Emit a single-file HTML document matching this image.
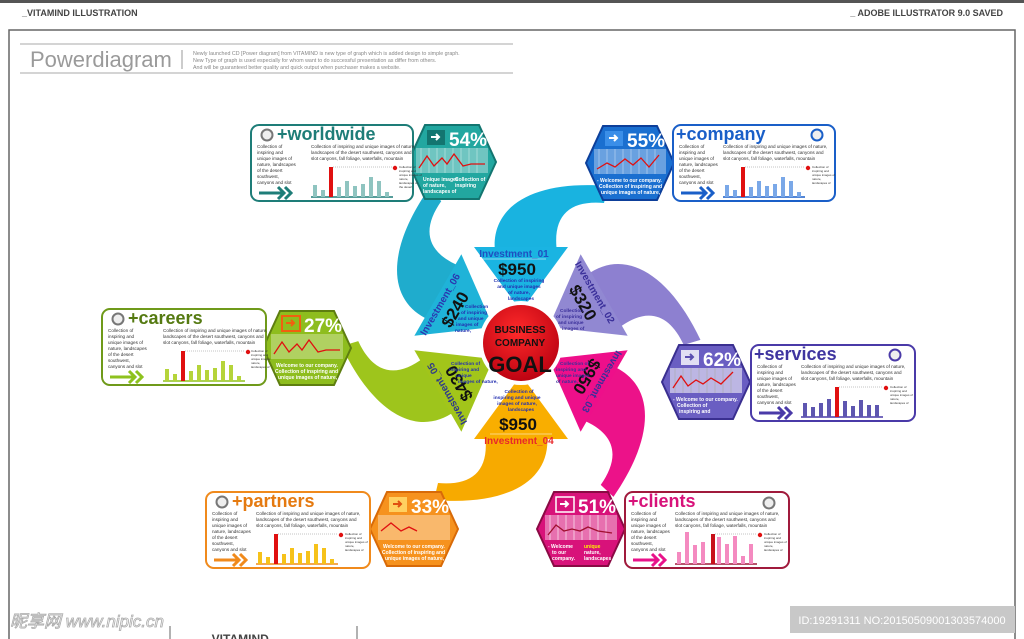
<!DOCTYPE html>
<html><head><meta charset="utf-8"><style>
html,body{margin:0;padding:0;background:#fff;width:1024px;height:639px;overflow:hidden}
svg{display:block;font-family:"Liberation Sans","Noto Sans CJK SC",sans-serif}
.t{font-size:4.6px;fill:#333}
.tiny{font-size:3px;fill:#333}
.ti{font-size:18px;font-weight:bold}
.hp{font-size:19px;font-weight:bold;fill:#fff}
.ht{font-size:5px;fill:#fff;font-weight:bold}
.inv{font-size:10px;font-weight:bold}
.amt{font-size:17px;font-weight:bold;fill:#111}
.sm{font-size:4.8px;font-weight:bold}
</style></head><body>
<svg width="1024" height="639" viewBox="0 0 1024 639" xmlns="http://www.w3.org/2000/svg">
<rect x="0" y="0" width="1024" height="3" fill="#555"/>
<text x="22" y="16" font-size="9" font-weight="bold" fill="#444">_VITAMIND ILLUSTRATION</text>
<text x="1003" y="16" font-size="9" font-weight="bold" fill="#444" text-anchor="end">_ ADOBE ILLUSTRATOR 9.0 SAVED</text>
<rect x="9" y="30" width="1006" height="640" fill="none" stroke="#666" stroke-width="1.5"/>
<line x1="20" y1="44" x2="513" y2="44" stroke="#aaa" stroke-width="1"/>
<line x1="20" y1="73" x2="513" y2="73" stroke="#aaa" stroke-width="1"/>
<text x="30" y="67" font-size="22" fill="#9a9a9a">Powerdiagram</text>
<line x1="182" y1="50" x2="182" y2="69" stroke="#999"/>
<text x="193" y="55" font-size="5.3" fill="#888">Newly launched CD [Power diagram] from VITAMIND is new type of graph which is added design to simple graph.</text>
<text x="193" y="62" font-size="5.3" fill="#888">New Type of graph is used especially for whom want to do successful presentation as differ from others.</text>
<text x="193" y="69" font-size="5.3" fill="#888">And will be guaranteed better quality and quick output when purchaser makes a website.</text>

<!-- swooshes -->
<g>
<path id="sw" d="M495,252 C490,205 535,180 608,186 L604,203 C570,200 552,215 557,252 Z" fill="#19b3e0"/>
<path d="M495,252 C490,205 535,180 608,186 L604,203 C570,200 552,215 557,252 Z" fill="#8d80d0" transform="rotate(60 521 343)"/>
<path d="M495,252 C490,205 535,180 608,186 L604,203 C570,200 552,215 557,252 Z" fill="#ec1289" transform="rotate(120 521 343)"/>
<path d="M495,252 C490,205 535,180 608,186 L604,203 C570,200 552,215 557,252 Z" fill="#f7aa00" transform="rotate(180 521 343)"/>
<path d="M495,252 C490,205 535,180 608,186 L604,203 C570,200 552,215 557,252 Z" fill="#9ec51c" transform="rotate(240 521 343)"/>
<path d="M495,252 C490,205 535,180 608,186 L604,203 C570,200 552,215 557,252 Z" fill="#1faccd" transform="rotate(300 521 343)"/>
</g>
<!-- triangles -->
<polygon points="474,247 568,247 521,311" fill="#1ab4e2"/>
<polygon points="474,247 568,247 521,311" fill="#9188d2" transform="rotate(60 521 343)"/>
<polygon points="474,247 568,247 521,311" fill="#ee0f8a" transform="rotate(120 521 343)"/>
<polygon points="474,247 568,247 521,311" fill="#f9ae00" transform="rotate(180 521 343)"/>
<polygon points="474,247 568,247 521,311" fill="#a2c51a" transform="rotate(240 521 343)"/>
<polygon points="474,247 568,247 521,311" fill="#1fb3d8" transform="rotate(300 521 343)"/>
<!-- triangle texts -->
<g>
<text x="514" y="257" class="inv" fill="#1f4fc0" text-anchor="middle">Investment_01</text>
<line x1="482" y1="259" x2="546" y2="259" stroke="#fff" stroke-width="0.6"/>
<text x="517" y="275" class="amt" text-anchor="middle">$950</text>
<text x="519" y="282" class="sm" fill="#2430b0" text-anchor="middle">Collection of inspiring</text>
<text x="519" y="288" class="sm" fill="#2430b0" text-anchor="middle">and unique images</text>
<text x="519" y="294" class="sm" fill="#2430b0" text-anchor="middle">of nature,</text>
<text x="521" y="300" class="sm" fill="#2430b0" text-anchor="middle">landscapes</text>
</g>
<g transform="rotate(60 521 343)">
<text x="514" y="257" class="inv" fill="#3a2f9a" text-anchor="middle">Investment_02</text>
<text x="517" y="275" class="amt" text-anchor="middle">$320</text>
</g>
<text x="560" y="312" class="sm" fill="#3a2f9a">Collection</text>
<text x="556" y="318" class="sm" fill="#3a2f9a">of inspiring</text>
<text x="558" y="324" class="sm" fill="#3a2f9a">and unique</text>
<text x="562" y="330" class="sm" fill="#3a2f9a">images of</text>
<g transform="rotate(120 521 343)">
<text x="514" y="257" class="inv" fill="#3a2f9a" text-anchor="middle">Investment_03</text>
<text x="517" y="275" class="amt" text-anchor="middle">$950</text>
</g>
<text x="560" y="365" class="sm" fill="#3a2f9a">Collection of</text>
<text x="556" y="371" class="sm" fill="#3a2f9a">inspiring and</text>
<text x="556" y="377" class="sm" fill="#3a2f9a">unique images</text>
<text x="556" y="383" class="sm" fill="#3a2f9a">of nature,</text>
<g>
<text x="519" y="393" class="sm" fill="#2430b0" text-anchor="middle">Collection of</text>
<text x="517" y="399" class="sm" fill="#2430b0" text-anchor="middle">inspiring and unique</text>
<text x="517" y="405" class="sm" fill="#2430b0" text-anchor="middle">images of nature,</text>
<text x="521" y="411" class="sm" fill="#2430b0" text-anchor="middle">landscapes</text>
<text x="518" y="430" class="amt" text-anchor="middle">$950</text>
<line x1="490" y1="434" x2="552" y2="434" stroke="#fff" stroke-width="0.6"/>
<text x="519" y="444" class="inv" fill="#e8282a" text-anchor="middle">Investment_04</text>
</g>
<g transform="rotate(240 521 343)">
<text x="514" y="257" class="inv" fill="#2e3a8a" text-anchor="middle">Investment_05</text>
<text x="517" y="275" class="amt" text-anchor="middle">$430</text>
</g>
<text x="451" y="365" class="sm" fill="#2430b0">Collection of</text>
<text x="449" y="371" class="sm" fill="#2430b0">inspiring and</text>
<text x="456" y="377" class="sm" fill="#2430b0">unique</text>
<text x="458" y="383" class="sm" fill="#2430b0">images of nature,</text>
<g transform="rotate(300 521 343)">
<text x="514" y="257" class="inv" fill="#2a38b0" text-anchor="middle">Investment_06</text>
<text x="517" y="275" class="amt" text-anchor="middle">$240</text>
</g>
<text x="465" y="308" class="sm" fill="#2430b0">Collection</text>
<text x="461" y="314" class="sm" fill="#2430b0">of inspiring</text>
<text x="458" y="320" class="sm" fill="#2430b0">and unique</text>
<text x="456" y="326" class="sm" fill="#2430b0">images of</text>
<text x="455" y="332" class="sm" fill="#2430b0">nature,</text>
<!-- center -->
<defs><radialGradient id="rg" cx="0.45" cy="0.35" r="0.7"><stop offset="0" stop-color="#ff2a2a"/><stop offset="1" stop-color="#b80010"/></radialGradient></defs>
<circle cx="521" cy="343" r="42" fill="#fff"/>
<circle cx="521" cy="343" r="38" fill="url(#rg)"/>
<text x="520" y="333" font-size="10" font-weight="bold" fill="#111" text-anchor="middle">BUSINESS</text>
<text x="520" y="346" font-size="10" font-weight="bold" fill="#111" text-anchor="middle">COMPANY</text>
<text x="520" y="372" font-size="22" font-weight="bold" fill="#111" text-anchor="middle">GOAL</text>

<!-- HEXAGONS -->
<!-- worldwide 54 -->
<g transform="translate(407,124)">
<polygon points="18,1 72,1 89,38 72,75 18,75 1,38" fill="#22a7a0" stroke="#137570" stroke-width="2"/>
<rect x="20" y="6" width="18" height="15" fill="#137570"/><path d="M24,13h8M29,10l3,3-3,3" stroke="#fff" stroke-width="2" fill="none"/>
<text x="42" y="22" class="hp">54%</text>
<rect x="9" y="24" width="72" height="25" fill="#fff" opacity="0.35"/>
<path d="M14,24v25M22,24v25M30,24v25M38,24v25M46,24v25M54,24v25M62,24v25M70,24v25" stroke="#fff" stroke-width="0.6" opacity="0.6"/>
<polyline points="12,44 20,32 27,42 35,34 40,40 47,30 56,42 64,40 78,40" fill="none" stroke="#e01010" stroke-width="1.3"/>
<text x="16" y="57" class="ht">Unique images</text><text x="16" y="63" class="ht">of nature,</text><text x="16" y="69" class="ht">landscapes of</text><text x="48" y="57" class="ht">Collection of</text><text x="48" y="63" class="ht">inspiring</text>
</g>
<!-- company 55 -->
<g transform="translate(585,125)">
<polygon points="18,1 72,1 89,38 72,75 18,75 1,38" fill="#1a6fd0" stroke="#0d3f9a" stroke-width="2"/>
<rect x="20" y="6" width="18" height="15" fill="#3a8ee8"/><path d="M24,13h8M29,10l3,3-3,3" stroke="#fff" stroke-width="2" fill="none"/>
<text x="42" y="22" class="hp">55%</text>
<rect x="9" y="24" width="72" height="25" fill="#fff" opacity="0.35"/>
<path d="M14,24v25M22,24v25M30,24v25M38,24v25M46,24v25M54,24v25M62,24v25M70,24v25" stroke="#fff" stroke-width="0.6" opacity="0.6"/>
<polyline points="12,44 22,38 30,42 40,34 48,40 56,33 64,42 74,30" fill="none" stroke="#e01010" stroke-width="1.3"/>
<text x="12" y="57" class="ht">- Welcome to our company.</text><text x="14" y="63" class="ht">Collection of inspiring and</text><text x="16" y="69" class="ht">unique images of nature,</text>
</g>
<!-- careers 27 -->
<g transform="translate(262,310)">
<polygon points="18,1 72,1 89,38 72,75 18,75 1,38" fill="#8ebd1e" stroke="#5e7e10" stroke-width="2"/>
<rect x="20" y="6" width="18" height="15" fill="none" stroke="#f06010" stroke-width="2"/><path d="M24,13h8M29,10l3,3-3,3" stroke="#f06010" stroke-width="2" fill="none"/>
<text x="42" y="22" class="hp">27%</text>
<rect x="9" y="24" width="72" height="25" fill="#fff" opacity="0.3"/>
<polyline points="12,44 20,32 27,42 35,34 40,40 47,30 56,42 64,40 78,40" fill="none" stroke="#e01010" stroke-width="1.3"/>
<text x="14" y="57" class="ht">Welcome to our company.</text><text x="13" y="63" class="ht">Collection of inspiring and</text><text x="16" y="69" class="ht">unique images of nature,</text>
</g>
<!-- services 62 -->
<g transform="translate(661,344)">
<polygon points="18,1 72,1 89,38 72,75 18,75 1,38" fill="#6a5ec2" stroke="#3a2f90" stroke-width="2"/>
<rect x="20" y="6" width="18" height="15" fill="#fff" opacity="0.8"/><path d="M24,13h8M29,10l3,3-3,3" stroke="#5a4eb0" stroke-width="2" fill="none"/>
<text x="42" y="22" class="hp">62%</text>
<rect x="9" y="24" width="72" height="25" fill="#fff" opacity="0.55"/>
<path d="M14,24v25M22,24v25M30,24v25M38,24v25M46,24v25M54,24v25M62,24v25M70,24v25" stroke="#aaa" stroke-width="0.6"/>
<polyline points="12,44 20,32 27,42 35,36 42,40 50,34 60,40 72,28" fill="none" stroke="#e01010" stroke-width="1.3"/>
<text x="12" y="57" class="ht">- Welcome to our company.</text><text x="16" y="63" class="ht">Collection of</text><text x="18" y="69" class="ht">inspiring and</text>
</g>
<!-- partners 33 -->
<g transform="translate(369,491)">
<polygon points="18,1 72,1 89,38 72,75 18,75 1,38" fill="#f6921e" stroke="#d86a08" stroke-width="2"/>
<rect x="20" y="6" width="18" height="15" fill="#ffd060"/><path d="M24,13h8M29,10l3,3-3,3" stroke="#e05010" stroke-width="2" fill="none"/>
<text x="42" y="22" class="hp">33%</text>
<rect x="9" y="24" width="72" height="25" fill="#fff" opacity="0.35"/>
<polyline points="12,40 22,32 32,40 40,36 48,40" fill="none" stroke="#e01010" stroke-width="1.3"/>
<text x="14" y="57" class="ht">Welcome to our company.</text><text x="13" y="63" class="ht">Collection of inspiring and</text><text x="16" y="69" class="ht">unique images of nature,</text>
</g>
<!-- clients 51 -->
<g transform="translate(536,491)">
<polygon points="18,1 72,1 89,38 72,75 18,75 1,38" fill="#d8127a" stroke="#8a0a44" stroke-width="2"/>
<rect x="20" y="6" width="18" height="15" fill="none" stroke="#fff" stroke-width="1.5"/><path d="M24,13h8M29,10l3,3-3,3" stroke="#fff" stroke-width="2" fill="none"/>
<text x="42" y="22" class="hp">51%</text>
<rect x="9" y="24" width="72" height="25" fill="#fff" opacity="0.4"/>
<path d="M14,24v25M22,24v25M30,24v25M38,24v25M46,24v25M54,24v25M62,24v25M70,24v25" stroke="#fff" stroke-width="0.6"/>
<polyline points="12,44 20,34 28,40 36,38 44,40 52,36 62,40 76,42" fill="none" stroke="#a01030" stroke-width="1.3"/>
<text x="12" y="57" class="ht">- Welcome</text><text x="16" y="63" class="ht">to our</text><text x="16" y="69" class="ht">company.</text>
<text x="48" y="57" class="ht" fill="#ffee00" style="fill:#ffee00">unique</text><text x="48" y="63" class="ht">nature,</text><text x="48" y="69" class="ht">landscapes</text>
</g>

<!-- CARDS -->
<!-- worldwide -->
<g transform="translate(250,124)">
<rect x="1" y="1" width="162" height="76" rx="8" fill="#fff" stroke="#1e7d78" stroke-width="2"/>
<circle cx="17" cy="11" r="5.5" fill="#eee" stroke="#777" stroke-width="2"/>
<text x="27" y="16" class="ti" fill="#1e7d78">+worldwide</text>
<text class="t" x="7" y="24">Collection of</text><text class="t" x="7" y="30">inspiring and</text><text class="t" x="7" y="36">unique images of</text><text class="t" x="7" y="42">nature, landscapes</text><text class="t" x="7" y="48">of the desert</text><text class="t" x="7" y="54">southwest,</text><text class="t" x="7" y="60">canyons and slot</text>
<text class="t" x="61" y="24">Collection of inspiring and unique images of nature,</text><text class="t" x="61" y="30">landscapes of the desert southwest, canyons and</text><text class="t" x="61" y="36">slot canyons, fall foliage, waterfalls, mountain</text>
<path d="M9,69h24M28,63l6,6-6,6M35,63l6,6-6,6" stroke="#1e7d78" stroke-width="3" fill="none"/>
<line x1="61" y1="73" x2="143" y2="73" stroke="#1e7d78" stroke-width="1.5"/>
<path d="M65,73v-12M73,73v-7M89,73v-10M97,73v-16M105,73v-11M113,73v-13M121,73v-20M129,73v-16M137,73v-5" stroke="#8fc4c0" stroke-width="4"/>
<rect x="79" y="43" width="4" height="30" fill="#e01010"/>
<line x1="83" y1="43" x2="143" y2="43" stroke="#888" stroke-width="0.5" stroke-dasharray="1,1"/>
<circle cx="145" cy="44" r="2.2" fill="#e01010"/>
<text class="tiny" x="149" y="44">Collection of</text><text class="tiny" x="149" y="48">inspiring and</text><text class="tiny" x="149" y="52">unique images of</text><text class="tiny" x="149" y="56">nature,</text><text class="tiny" x="149" y="60">landscapes of</text><text class="tiny" x="149" y="64">the desert</text>
</g>
<!-- company -->
<g transform="translate(672,124)">
<rect x="1" y="1" width="162" height="76" rx="8" fill="#fff" stroke="#1a5fc8" stroke-width="2"/>
<circle cx="145" cy="11" r="5.5" fill="#eee" stroke="#1a5fc8" stroke-width="2"/>
<text x="4" y="16" class="ti" fill="#1a5fc8">+company</text>
<text class="t" x="7" y="24">Collection of</text><text class="t" x="7" y="30">inspiring and</text><text class="t" x="7" y="36">unique images of</text><text class="t" x="7" y="42">nature, landscapes</text><text class="t" x="7" y="48">of the desert</text><text class="t" x="7" y="54">southwest,</text><text class="t" x="7" y="60">canyons and slot</text>
<text class="t" x="51" y="24">Collection of inspiring and unique images of nature,</text><text class="t" x="51" y="30">landscapes of the desert southwest, canyons and</text><text class="t" x="51" y="36">slot canyons, fall foliage, waterfalls, mountain</text>
<path d="M9,69h24M28,63l6,6-6,6M35,63l6,6-6,6" stroke="#1a5fc8" stroke-width="3" fill="none"/>
<line x1="51" y1="73" x2="133" y2="73" stroke="#1a5fc8" stroke-width="1.5"/>
<path d="M55,73v-12M63,73v-7M79,73v-10M87,73v-16M95,73v-11M103,73v-13M111,73v-20M119,73v-16M127,73v-5" stroke="#7aa8e8" stroke-width="4"/>
<rect x="69" y="43" width="4" height="30" fill="#e01010"/>
<line x1="73" y1="43" x2="133" y2="43" stroke="#888" stroke-width="0.5" stroke-dasharray="1,1"/>
<circle cx="136" cy="44" r="2.2" fill="#e01010"/>
<text class="tiny" x="140" y="44">Collection of</text><text class="tiny" x="140" y="48">inspiring and</text><text class="tiny" x="140" y="52">unique images of</text><text class="tiny" x="140" y="56">nature,</text><text class="tiny" x="140" y="60">landscapes of</text>
</g>
<!-- careers -->
<g transform="translate(101,308)">
<rect x="1" y="1" width="164" height="76" rx="8" fill="#fff" stroke="#6f9a1a" stroke-width="2"/>
<circle cx="17" cy="11" r="5.5" fill="#eee" stroke="#777" stroke-width="2"/>
<text x="27" y="16" class="ti" fill="#557a12">+careers</text>
<text class="t" x="7" y="24">Collection of</text><text class="t" x="7" y="30">inspiring and</text><text class="t" x="7" y="36">unique images of</text><text class="t" x="7" y="42">nature, landscapes</text><text class="t" x="7" y="48">of the desert</text><text class="t" x="7" y="54">southwest,</text><text class="t" x="7" y="60">canyons and slot</text>
<text class="t" x="62" y="24">Collection of inspiring and unique images of nature,</text><text class="t" x="62" y="30">landscapes of the desert southwest, canyons and</text><text class="t" x="62" y="36">slot canyons, fall foliage, waterfalls, mountain</text>
<path d="M9,69h24M28,63l6,6-6,6M35,63l6,6-6,6" stroke="#8ec21e" stroke-width="3" fill="none"/>
<line x1="62" y1="73" x2="144" y2="73" stroke="#8ec21e" stroke-width="1.5"/>
<path d="M66,73v-12M74,73v-7M90,73v-10M98,73v-16M106,73v-11M114,73v-13M122,73v-20M130,73v-16M138,73v-5" stroke="#b5d43a" stroke-width="4"/>
<rect x="80" y="43" width="4" height="30" fill="#e01010"/>
<line x1="84" y1="43" x2="144" y2="43" stroke="#888" stroke-width="0.5" stroke-dasharray="1,1"/>
<circle cx="147" cy="44" r="2.2" fill="#e01010"/>
<text class="tiny" x="150" y="44">Collection of</text><text class="tiny" x="150" y="48">inspiring and</text><text class="tiny" x="150" y="52">unique images</text><text class="tiny" x="150" y="56">nature,</text><text class="tiny" x="150" y="60">landscapes of</text>
</g>
<!-- services -->
<g transform="translate(750,344)">
<rect x="1" y="1" width="164" height="76" rx="8" fill="#fff" stroke="#4a3aa8" stroke-width="2"/>
<circle cx="145" cy="11" r="5.5" fill="#eee" stroke="#4a3aa8" stroke-width="2"/>
<text x="4" y="16" class="ti" fill="#3f35a0">+services</text>
<text class="t" x="7" y="24">Collection of</text><text class="t" x="7" y="30">inspiring and</text><text class="t" x="7" y="36">unique images of</text><text class="t" x="7" y="42">nature, landscapes</text><text class="t" x="7" y="48">of the desert</text><text class="t" x="7" y="54">southwest,</text><text class="t" x="7" y="60">canyons and slot</text>
<text class="t" x="51" y="24">Collection of inspiring and unique images of nature,</text><text class="t" x="51" y="30">landscapes of the desert southwest, canyons and</text><text class="t" x="51" y="36">slot canyons, fall foliage, waterfalls, mountain</text>
<path d="M9,69h24M28,63l6,6-6,6M35,63l6,6-6,6" stroke="#4a3aa8" stroke-width="3" fill="none"/>
<line x1="51" y1="73" x2="133" y2="73" stroke="#4a3aa8" stroke-width="1.5"/>
<path d="M55,73v-14M63,73v-10M71,73v-14M79,73v-18M95,73v-16M103,73v-11M111,73v-17M119,73v-12M127,73v-12" stroke="#5e56b0" stroke-width="4"/>
<rect x="85" y="43" width="4" height="30" fill="#e01010"/>
<line x1="89" y1="43" x2="133" y2="43" stroke="#888" stroke-width="0.5" stroke-dasharray="1,1"/>
<circle cx="136" cy="44" r="2.2" fill="#e01010"/>
<text class="tiny" x="140" y="44">Collection of</text><text class="tiny" x="140" y="48">inspiring and</text><text class="tiny" x="140" y="52">unique images of</text><text class="tiny" x="140" y="56">nature,</text><text class="tiny" x="140" y="60">landscapes of</text>
</g>
<!-- partners -->
<g transform="translate(205,491)">
<rect x="1" y="1" width="164" height="76" rx="8" fill="#fff" stroke="#f08a1c" stroke-width="2"/>
<circle cx="17" cy="11" r="5.5" fill="#eee" stroke="#777" stroke-width="2"/>
<text x="27" y="16" class="ti" fill="#e57a10">+partners</text>
<text class="t" x="7" y="24">Collection of</text><text class="t" x="7" y="30">inspiring and</text><text class="t" x="7" y="36">unique images of</text><text class="t" x="7" y="42">nature, landscapes</text><text class="t" x="7" y="48">of the desert</text><text class="t" x="7" y="54">southwest,</text><text class="t" x="7" y="60">canyons and slot</text>
<text class="t" x="51" y="24">Collection of inspiring and unique images of nature,</text><text class="t" x="51" y="30">landscapes of the desert southwest, canyons and</text><text class="t" x="51" y="36">slot canyons, fall foliage, waterfalls, mountain</text>
<path d="M9,69h24M28,63l6,6-6,6M35,63l6,6-6,6" stroke="#f08a1c" stroke-width="3" fill="none"/>
<line x1="51" y1="73" x2="133" y2="73" stroke="#f08a1c" stroke-width="1.5"/>
<path d="M55,73v-12M63,73v-7M79,73v-10M87,73v-16M95,73v-11M103,73v-13M111,73v-20M119,73v-16M127,73v-5" stroke="#f6c21a" stroke-width="4"/>
<rect x="69" y="43" width="4" height="30" fill="#e01010"/>
<line x1="73" y1="43" x2="133" y2="43" stroke="#888" stroke-width="0.5" stroke-dasharray="1,1"/>
<circle cx="136" cy="44" r="2.2" fill="#e01010"/>
<text class="tiny" x="140" y="44">Collection of</text><text class="tiny" x="140" y="48">inspiring and</text><text class="tiny" x="140" y="52">unique images of</text><text class="tiny" x="140" y="56">nature,</text><text class="tiny" x="140" y="60">landscapes of</text>
</g>
<!-- clients -->
<g transform="translate(624,491)">
<rect x="1" y="1" width="164" height="76" rx="8" fill="#fff" stroke="#a01a3c" stroke-width="2"/>
<circle cx="145" cy="12" r="5.5" fill="#eee" stroke="#777" stroke-width="2"/>
<text x="4" y="16" class="ti" fill="#d8127a">+clients</text>
<text class="t" x="7" y="24">Collection of</text><text class="t" x="7" y="30">inspiring and</text><text class="t" x="7" y="36">unique images of</text><text class="t" x="7" y="42">nature, landscapes</text><text class="t" x="7" y="48">of the desert</text><text class="t" x="7" y="54">southwest,</text><text class="t" x="7" y="60">canyons and slot</text>
<text class="t" x="51" y="24">Collection of inspiring and unique images of nature,</text><text class="t" x="51" y="30">landscapes of the desert southwest, canyons and</text><text class="t" x="51" y="36">slot canyons, fall foliage, waterfalls, mountain</text>
<path d="M9,69h24M28,63l6,6-6,6M35,63l6,6-6,6" stroke="#e8128a" stroke-width="3" fill="none"/>
<line x1="51" y1="73" x2="133" y2="73" stroke="#a01a3c" stroke-width="1.5"/>
<path d="M55,73v-12M63,73v-32M71,73v-19M79,73v-22M95,73v-27M103,73v-20M111,73v-28M119,73v-8M127,73v-20" stroke="#f48ac0" stroke-width="4"/>
<rect x="87" y="43" width="4" height="30" fill="#c8101a"/>
<line x1="91" y1="43" x2="133" y2="43" stroke="#888" stroke-width="0.5" stroke-dasharray="1,1"/>
<circle cx="136" cy="44" r="2.2" fill="#e01010"/>
<text class="tiny" x="140" y="44">Collection of</text><text class="tiny" x="140" y="48">inspiring and</text><text class="tiny" x="140" y="52">unique images of</text><text class="tiny" x="140" y="56">nature,</text><text class="tiny" x="140" y="60">landscapes of</text>
</g>

<!-- bottom -->
<text x="10" y="627" font-size="17" font-style="italic" fill="#fff" stroke="#aaa" stroke-width="0.8">昵享网 www.nipic.cn</text>
<rect x="790" y="606" width="225" height="27" fill="#c8c8c8"/>
<text x="902" y="624" font-size="11" fill="#fff" text-anchor="middle">ID:19291311 NO:20150509001303574000</text>
<line x1="170" y1="626" x2="170" y2="639" stroke="#666"/>
<line x1="357" y1="626" x2="357" y2="639" stroke="#666"/>
<text x="205" y="643" font-size="12" font-weight="bold" fill="#444">_VITAMIND</text>
</svg>
</body></html>
